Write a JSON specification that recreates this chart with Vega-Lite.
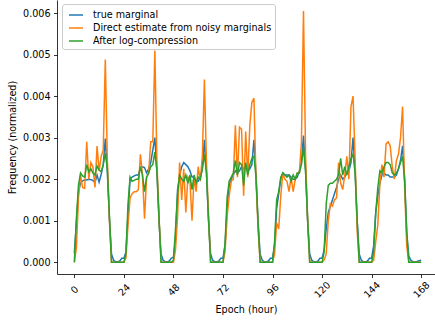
{
"$schema": "https://vega.github.io/schema/vega-lite/v6.json",
"width": 378, "height": 274,
"autosize": "none",
"padding": {"left": 57, "top": 0, "right": 0, "bottom": 50},
"data": {"values": [
{"h":0,"t":0.00022,"d":0,"g":0},{"h":1,"t":0.00095,"d":0.00035,"g":0.00105},{"h":2,"t":0.0017,"d":0.00155,"g":0.00185},{"h":3,"t":0.0019,"d":0.0021,"g":0.00215},{"h":4,"t":0.00196,"d":0.0018,"g":0.00208},{"h":5,"t":0.00198,"d":0.00178,"g":0.00205},{"h":6,"t":0.00198,"d":0.0029,"g":0.00235},{"h":7,"t":0.002,"d":0.002,"g":0.00218},{"h":8,"t":0.00199,"d":0.0024,"g":0.00225},{"h":9,"t":0.00197,"d":0.0023,"g":0.00215},{"h":10,"t":0.00192,"d":0.0018,"g":0.0021},{"h":11,"t":0.0021,"d":0.0028,"g":0.00232},{"h":12,"t":0.00193,"d":0.0022,"g":0.00222},{"h":13,"t":0.00212,"d":0.00255,"g":0.00218},{"h":14,"t":0.00235,"d":0.0027,"g":0.00235},{"h":15,"t":0.00298,"d":0.00488,"g":0.00262},{"h":16,"t":0.00215,"d":0.00245,"g":0.00225},{"h":17,"t":0.00105,"d":0.001,"g":0.0011},{"h":18,"t":0.0002,"d":0,"g":0},{"h":19,"t":0.00005,"d":0,"g":0},{"h":20,"t":0.00001,"d":0,"g":0},{"h":21,"t":0.00001,"d":0,"g":0},{"h":22,"t":0.00003,"d":0,"g":0},{"h":23,"t":0.0001,"d":0,"g":0},
{"h":24,"t":0.0001,"d":0,"g":0},{"h":25,"t":0.00025,"d":0.0001,"g":0.0002},{"h":26,"t":0.00115,"d":0.0009,"g":0.0014},{"h":27,"t":0.00202,"d":0.00155,"g":0.00205},{"h":28,"t":0.00205,"d":0.00165,"g":0.00195},{"h":29,"t":0.00208,"d":0.0017,"g":0.00197},{"h":30,"t":0.0021,"d":0.0017,"g":0.002},{"h":31,"t":0.0021,"d":0.00175,"g":0.002},{"h":32,"t":0.00228,"d":0.0026,"g":0.0023},{"h":33,"t":0.0023,"d":0.0021,"g":0.0021},{"h":34,"t":0.00228,"d":0.00105,"g":0.0017},{"h":35,"t":0.00215,"d":0.00205,"g":0.00205},{"h":36,"t":0.00225,"d":0.00215,"g":0.00215},{"h":37,"t":0.0024,"d":0.0029,"g":0.0023},{"h":38,"t":0.0027,"d":0.0029,"g":0.00235},{"h":39,"t":0.003,"d":0.0051,"g":0.00265},{"h":40,"t":0.0022,"d":0.0024,"g":0.0022},{"h":41,"t":0.001,"d":0.0011,"g":0.0011},{"h":42,"t":0.0002,"d":0,"g":0},{"h":43,"t":0.00005,"d":0,"g":0},{"h":44,"t":0.00001,"d":0,"g":0},{"h":45,"t":0.00001,"d":0,"g":0},{"h":46,"t":0.00003,"d":0,"g":0},{"h":47,"t":0.0001,"d":0,"g":0},
{"h":48,"t":0.00012,"d":0,"g":0.00005},{"h":49,"t":0.00055,"d":0.0003,"g":0.0008},{"h":50,"t":0.00175,"d":0.0011,"g":0.00165},{"h":51,"t":0.0021,"d":0.0024,"g":0.0021},{"h":52,"t":0.0023,"d":0.0015,"g":0.002},{"h":53,"t":0.0024,"d":0.00225,"g":0.00195},{"h":54,"t":0.00235,"d":0.0012,"g":0.0021},{"h":55,"t":0.0023,"d":0.00205,"g":0.0019},{"h":56,"t":0.0022,"d":0.00195,"g":0.0021},{"h":57,"t":0.00205,"d":0.001,"g":0.00175},{"h":58,"t":0.00205,"d":0.00205,"g":0.0021},{"h":59,"t":0.00195,"d":0.0017,"g":0.0019},{"h":60,"t":0.00195,"d":0.0023,"g":0.00205},{"h":61,"t":0.00205,"d":0.00195,"g":0.002},{"h":62,"t":0.00225,"d":0.00255,"g":0.00225},{"h":63,"t":0.00295,"d":0.0044,"g":0.0026},{"h":64,"t":0.00215,"d":0.0024,"g":0.00215},{"h":65,"t":0.001,"d":0.0011,"g":0.00105},{"h":66,"t":0.0002,"d":0,"g":0},{"h":67,"t":0.00005,"d":0,"g":0},{"h":68,"t":0.00001,"d":0,"g":0},{"h":69,"t":0.00001,"d":0,"g":0},{"h":70,"t":0.00003,"d":0,"g":0},{"h":71,"t":0.0001,"d":0,"g":0},
{"h":72,"t":0.0001,"d":0,"g":0},{"h":73,"t":0.0004,"d":0.00025,"g":0.00045},{"h":74,"t":0.0013,"d":0.0011,"g":0.00155},{"h":75,"t":0.00185,"d":0.0016,"g":0.00195},{"h":76,"t":0.002,"d":0.00195,"g":0.00205},{"h":77,"t":0.0021,"d":0.002,"g":0.00215},{"h":78,"t":0.0022,"d":0.0033,"g":0.00245},{"h":79,"t":0.00215,"d":0.00205,"g":0.0021},{"h":80,"t":0.0022,"d":0.00325,"g":0.0024},{"h":81,"t":0.0023,"d":0.0032,"g":0.00235},{"h":82,"t":0.00225,"d":0.0016,"g":0.00185},{"h":83,"t":0.0023,"d":0.00315,"g":0.0024},{"h":84,"t":0.0022,"d":0.00205,"g":0.0021},{"h":85,"t":0.00225,"d":0.0033,"g":0.00235},{"h":86,"t":0.00235,"d":0.00385,"g":0.0025},{"h":87,"t":0.00295,"d":0.00395,"g":0.00255},{"h":88,"t":0.0021,"d":0.002,"g":0.00205},{"h":89,"t":0.00095,"d":0.0008,"g":0.00095},{"h":90,"t":0.0002,"d":0,"g":0},{"h":91,"t":0.00005,"d":0,"g":0},{"h":92,"t":0.00001,"d":0,"g":0},{"h":93,"t":0.00001,"d":0,"g":0},{"h":94,"t":0.00003,"d":0,"g":0},{"h":95,"t":0.0001,"d":0,"g":0},
{"h":96,"t":0.0001,"d":0,"g":0},{"h":97,"t":0.0004,"d":0.0002,"g":0.0005},{"h":98,"t":0.0013,"d":0.00095,"g":0.0015},{"h":99,"t":0.00165,"d":0.0008,"g":0.0017},{"h":100,"t":0.002,"d":0.0016,"g":0.00205},{"h":101,"t":0.00215,"d":0.00215,"g":0.00215},{"h":102,"t":0.0021,"d":0.002,"g":0.0021},{"h":103,"t":0.0021,"d":0.00195,"g":0.00205},{"h":104,"t":0.0021,"d":0.0017,"g":0.0021},{"h":105,"t":0.00205,"d":0.00205,"g":0.00195},{"h":106,"t":0.002,"d":0.0017,"g":0.0021},{"h":107,"t":0.002,"d":0.002,"g":0.002},{"h":108,"t":0.00205,"d":0.00215,"g":0.00215},{"h":109,"t":0.0022,"d":0.00215,"g":0.00215},{"h":110,"t":0.0024,"d":0.0029,"g":0.00235},{"h":111,"t":0.00305,"d":0.00605,"g":0.00275},{"h":112,"t":0.0022,"d":0.0026,"g":0.0022},{"h":113,"t":0.001,"d":0.001,"g":0.00105},{"h":114,"t":0.0002,"d":0,"g":0},{"h":115,"t":0.00005,"d":0,"g":0},{"h":116,"t":0.00001,"d":0,"g":0},{"h":117,"t":0.00001,"d":0,"g":0},{"h":118,"t":0.00003,"d":0,"g":0},{"h":119,"t":0.0001,"d":0,"g":0},
{"h":120,"t":0.0001,"d":0,"g":0},{"h":121,"t":0.0003,"d":0.00005,"g":0.00025},{"h":122,"t":0.0008,"d":0.0002,"g":0.0014},{"h":123,"t":0.0012,"d":0.001,"g":0.00185},{"h":124,"t":0.00135,"d":0.0014,"g":0.0019},{"h":125,"t":0.0015,"d":0.00135,"g":0.0019},{"h":126,"t":0.00165,"d":0.0015,"g":0.00195},{"h":127,"t":0.0018,"d":0.00155,"g":0.002},{"h":128,"t":0.002,"d":0.0024,"g":0.0021},{"h":129,"t":0.0021,"d":0.0019,"g":0.0025},{"h":130,"t":0.002,"d":0.00175,"g":0.0021},{"h":131,"t":0.00205,"d":0.0021,"g":0.0023},{"h":132,"t":0.00215,"d":0.00255,"g":0.0021},{"h":133,"t":0.0022,"d":0.002,"g":0.0023},{"h":134,"t":0.0024,"d":0.00375,"g":0.0025},{"h":135,"t":0.003,"d":0.004,"g":0.0026},{"h":136,"t":0.0022,"d":0.0025,"g":0.00215},{"h":137,"t":0.001,"d":0.00075,"g":0.001},{"h":138,"t":0.0002,"d":0,"g":0},{"h":139,"t":0.00005,"d":0,"g":0},{"h":140,"t":0.00001,"d":0,"g":0},{"h":141,"t":0.00001,"d":0,"g":0},{"h":142,"t":0.00003,"d":0,"g":0},{"h":143,"t":0.0001,"d":0,"g":0},
{"h":144,"t":0.0001,"d":0,"g":0},{"h":145,"t":0.0004,"d":0.00005,"g":0.00025},{"h":146,"t":0.0012,"d":0.0005,"g":0.0012},{"h":147,"t":0.0016,"d":0.0009,"g":0.0018},{"h":148,"t":0.0019,"d":0.0019,"g":0.0022},{"h":149,"t":0.0021,"d":0.00235,"g":0.00215},{"h":150,"t":0.00215,"d":0.00205,"g":0.0023},{"h":151,"t":0.0021,"d":0.00285,"g":0.0024},{"h":152,"t":0.0021,"d":0.0029,"g":0.0024},{"h":153,"t":0.00205,"d":0.0028,"g":0.00235},{"h":154,"t":0.00205,"d":0.0023,"g":0.00215},{"h":155,"t":0.00205,"d":0.002,"g":0.0021},{"h":156,"t":0.0021,"d":0.00245,"g":0.00215},{"h":157,"t":0.00225,"d":0.0026,"g":0.00225},{"h":158,"t":0.00245,"d":0.003,"g":0.0024},{"h":159,"t":0.0028,"d":0.00375,"g":0.00255},{"h":160,"t":0.002,"d":0.0018,"g":0.00195},{"h":161,"t":0.0007,"d":0.0004,"g":0.00075},{"h":162,"t":0.00015,"d":0,"g":0},{"h":163,"t":0.00005,"d":0,"g":0},{"h":164,"t":0.00001,"d":0,"g":0},{"h":165,"t":0.00001,"d":0,"g":0},{"h":166,"t":0.00002,"d":0,"g":0},{"h":167,"t":0.00004,"d":0,"g":0},{"h":168,"t":0.00005,"d":0,"g":0}
]},
"transform": [{"fold": ["t", "d", "g"], "as": ["s", "v"]}],
"mark": {"type": "line", "strokeWidth": 1.5, "clip": true},
"encoding": {
  "x": {"field": "h", "type": "quantitative",
        "scale": {"domain": [-8.4, 174.7], "nice": false, "zero": false},
        "axis": {"values": [0, 24, 48, 72, 96, 120, 144, 168], "labelAngle": -45, "labelAlign": "center", "labelBaseline": "middle", "labelPadding": 12, "title": "Epoch (hour)", "titlePadding": 5, "labelFlush": false, "labelOverlap": false}},
  "y": {"field": "v", "type": "quantitative",
        "scale": {"domain": [-0.000282, 0.006313], "nice": false, "zero": false},
        "axis": {"values": [0, 0.001, 0.002, 0.003, 0.004, 0.005, 0.006], "format": ".3f", "labelPadding": 3.5, "title": "Frequency (normalized)", "titlePadding": 5, "labelFlush": false, "labelOverlap": false}},
  "color": {"field": "s", "type": "nominal",
        "scale": {"domain": ["t", "d", "g"], "range": ["#1f77b4", "#ff7f0e", "#2ca02c"]},
        "legend": {"title": null, "orient": "none", "legendX": 5, "legendY": 4,
                   "labelExpr": "datum.value == 't' ? 'true marginal' : datum.value == 'd' ? 'Direct estimate from noisy marginals' : 'After log-compression'",
                   "symbolType": "stroke", "symbolSize": 196, "symbolStrokeWidth": 1.5, "symbolOffset": 3,
                   "labelFontSize": 9.6, "labelFont": "DejaVu Sans", "labelColor": "#000", "labelOffset": 9, "labelLimit": 0,
                   "fillColor": "rgba(255,255,255,0.8)", "strokeColor": "#cccccc", "cornerRadius": 2.5,
                   "padding": 3, "rowPadding": 0}}
},
"config": {
  "view": {"stroke": null},
  "font": "DejaVu Sans",
  "axis": {"labelFont": "DejaVu Sans", "titleFont": "DejaVu Sans", "labelFontSize": 9.6, "titleFontSize": 9.6, "titleFontWeight": "normal", "labelColor": "#000", "titleColor": "#000", "domainColor": "#000", "tickColor": "#000", "domainWidth": 0.8, "tickWidth": 0.8, "tickSize": 3.5, "grid": false}
}
}
